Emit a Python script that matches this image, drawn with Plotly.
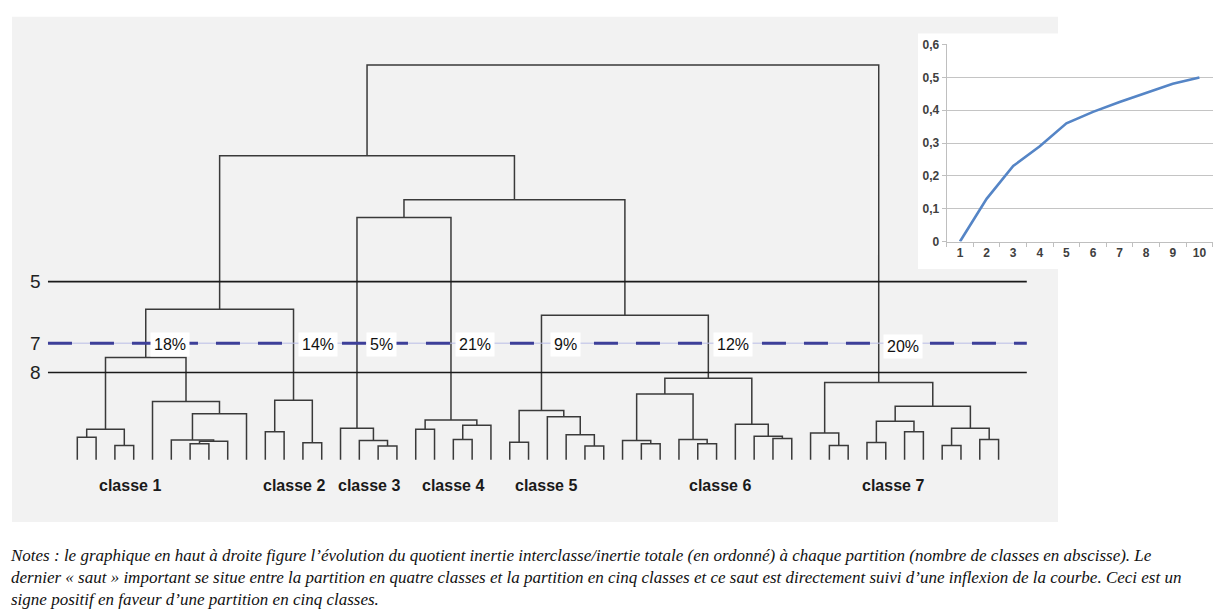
import plotly.graph_objects as go

# ---------------- Dendrogram data (leaves in display order) ----------------
n_leaves = 50
# merges: node id = n_leaves + index
merge_left = [0, 2, 50, 6, 53, 5, 55, 4, 52,
              10, 12, 59, 58,
              16, 15, 14,
              18, 20, 67, 66, 65,
              23, 27, 26, 25, 71,
              30, 29, 33, 32, 77, 37, 36, 35, 80, 75, 70, 62,
              40, 39, 42, 44, 90, 46, 48, 93, 92, 89, 87]
merge_right = [1, 3, 51, 7, 8, 54, 9, 56, 57,
               11, 13, 60, 61,
               17, 63, 64,
               19, 21, 22, 68, 69,
               24, 28, 72, 73, 74,
               31, 76, 34, 78, 79, 38, 81, 82, 83, 84, 85, 86,
               41, 88, 43, 45, 91, 47, 49, 94, 95, 96, 97]
merge_height = [23, 14.7, 31.3, 16.3, 19, 20.3, 47, 59.7, 104.7,
                28.7, 17.3, 61, 154,
                14, 19.7, 32.3,
                31.3, 20.7, 35.3, 40.7, 248,
                18, 14, 25.7, 44, 50.3,
                16.3, 19.7, 16.3, 20.7, 67.3, 21.7, 24, 36.3, 83.3, 148, 266, 311,
                14.7, 27.3, 17.7, 28.7, 39.3, 14.7, 20.7, 32.3, 54.7, 79, 404]

class_names = ["classe 1", "classe 2", "classe 3", "classe 4", "classe 5", "classe 6", "classe 7"]
class_root_node = [58, 61, 65, 69, 75, 84, 97]
class_shares = [18, 14, 5, 21, 9, 12, 20]
class_label_x = [2.8, 11.5, 15.5, 20.0, 24.93, 34.19, 43.4]

partitions = ["5", "7", "8"]
cut_heights = [182.3, 119.3, 89.3]

# ---------------- Inset data ----------------
n_classes = ["1", "2", "3", "4", "5", "6", "7", "8", "9", "10"]
inertia_ratio = [0, 0.13, 0.23, 0.29, 0.36, 0.395, 0.425, 0.453, 0.481, 0.50]
y_tick_vals = [0, 0.1, 0.2, 0.3, 0.4, 0.5, 0.6]
y_tick_text = ["0", "0,1", "0,2", "0,3", "0,4", "0,5", "0,6"]

notes_lines = [
    "Notes : le graphique en haut à droite figure l’évolution du quotient inertie interclasse/inertie totale (en ordonné) à chaque partition (nombre de classes en abscisse). Le",
    "dernier « saut » important se situe entre la partition en quatre classes et la partition en cinq classes et ce saut est directement suivi d’une inflexion de la courbe. Ceci est un",
    "signe positif en faveur d’une partition en cinq classes.",
]

W, H = 1224, 616

# ---------------- Build dendrogram segments ----------------
pos = {i: (float(i), 0.0) for i in range(n_leaves)}
xs, ys = [], []
for k, (a, b, h) in enumerate(zip(merge_left, merge_right, merge_height)):
    xa, ha = pos[a]
    xb, hb = pos[b]
    xs += [xa, xa, xb, xb, None]
    ys += [ha, h, h, hb, None]
    pos[n_leaves + k] = ((xa + xb) / 2, h)

fig = go.Figure()

NARROW = "Liberation Sans Narrow, Arial Narrow, Liberation Sans, Arial, sans-serif"

# background panels
fig.add_shape(type="rect", xref="paper", yref="paper",
              x0=12 / W, x1=1058 / W, y0=1 - 527 / H, y1=1 - 10 / H,
              fillcolor="#f2f2f2", line_width=0, layer="below")
fig.add_shape(type="rect", xref="paper", yref="paper",
              x0=918 / W, x1=1.0, y0=1 - 268 / H, y1=1 - 27 / H,
              fillcolor="#ffffff", line_width=0, layer="below")

# cut lines
for p, h in zip(partitions, cut_heights):
    if p == "7":
        fig.add_shape(type="line", xref="x", yref="y", x0=-1.56, x1=50.5, y0=h, y1=h,
                      line=dict(color="#b9bde6", width=1), layer="above")
        fig.add_shape(type="line", xref="x", yref="y", x0=-1.56, x1=50.5, y0=h, y1=h,
                      line=dict(color="#3d3f99", width=3, dash="24px,18px"), layer="above")
    else:
        fig.add_shape(type="line", xref="x", yref="y", x0=-1.56, x1=50.5, y0=h, y1=h,
                      line=dict(color="#1a1a1a", width=1.6), layer="above")
    fig.add_annotation(x=-2.2, y=h, xref="x", yref="y", text=p, showarrow=False,
                       font=dict(family=NARROW, size=19, color="#222222"),
                       xanchor="center", yanchor="middle")

# dendrogram
fig.add_trace(go.Scatter(x=xs, y=ys, mode="lines", xaxis="x", yaxis="y",
                         line=dict(color="#3a3a3a", width=1.5),
                         hoverinfo="skip", showlegend=False))

# class shares labels
for i, (node, share) in enumerate(zip(class_root_node, class_shares)):
    fig.add_annotation(x=pos[node][0] + 1.3, y=cut_heights[1], xref="x", yref="y",
                       text=f"{share}%", showarrow=False, bgcolor="#ffffff",
                       borderpad=3, yshift=-3 if i == 6 else -1,
                       font=dict(family=NARROW, size=16, color="#111111"),
                       xanchor="center", yanchor="middle")

# class names
for name, lx in zip(class_names, class_label_x):
    fig.add_annotation(x=lx, y=-26, xref="x", yref="y", text=f"<b>{name}</b>",
                       showarrow=False,
                       font=dict(family=NARROW, size=16, color="#1a1a1a"),
                       xanchor="center", yanchor="middle")

# inset line
fig.add_trace(go.Scatter(x=n_classes, y=inertia_ratio, mode="lines", xaxis="x2", yaxis="y2",
                         line=dict(color="#5585c6", width=2.6),
                         hoverinfo="skip", showlegend=False))

# notes
fig.add_annotation(xref="paper", yref="paper", x=8 / W, y=1 - 584 / H,
                   text="<br>".join(notes_lines), showarrow=False, align="left",
                   xanchor="left", yanchor="middle",
                   font=dict(family="Liberation Serif, DejaVu Serif, serif", size=17,
                             color="#111111", style="italic"))

fig.update_layout(
    width=W, height=H, margin=dict(l=0, r=0, t=0, b=0),
    paper_bgcolor="#ffffff", plot_bgcolor="rgba(0,0,0,0)",
    showlegend=False,
    xaxis=dict(domain=[12 / W, 1058 / W], range=[-3.473, 52.16], visible=False,
               fixedrange=True),
    yaxis=dict(domain=[1 - 527 / H, 1 - 10 / H], range=[-63.7, 453.3], visible=False,
               fixedrange=True),
    xaxis2=dict(domain=[946.7 / W, 1212.7 / W], anchor="y2", type="category",
                range=[-0.5, 9.5],
                showgrid=False, showline=True, linecolor="#bfbfbf", linewidth=1,
                ticks="outside", tickson="boundaries", ticklen=4, tickcolor="#bfbfbf",
                tickfont=dict(family="Liberation Sans, Arial, sans-serif", size=12,
                              color="#404040", weight="bold"),
                fixedrange=True),
    yaxis2=dict(domain=[1 - 240 / H, 1 - 38.3 / H], anchor="x2", range=[0, 0.6005],
                tickvals=y_tick_vals, ticktext=y_tick_text,
                showgrid=True, gridcolor="#c4c4c4", gridwidth=1, zeroline=False,
                showline=True, linecolor="#bfbfbf", linewidth=1,
                ticks="outside", ticklen=4, tickcolor="#bfbfbf",
                tickfont=dict(family="Liberation Sans, Arial, sans-serif", size=12,
                              color="#404040", weight="bold"),
                fixedrange=True),
)

fig.write_html("out.html", config={"displayModeBar": False},
               post_script="document.body.style.margin='0px';document.body.style.padding='0px';")
